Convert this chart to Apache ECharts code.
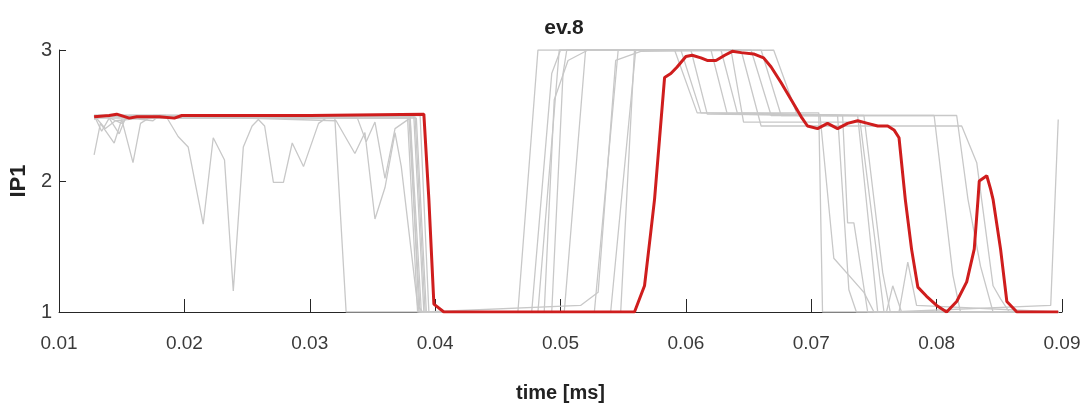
<!DOCTYPE html>
<html>
<head>
<meta charset="utf-8">
<script src="https://cdn.jsdelivr.net/npm/echarts@6/dist/echarts.min.js"></script>
<style>
  html, body { margin: 0; padding: 0; background: #ffffff; }
  #chart { width: 1086px; height: 408px; }
</style>
</head>
<body>
<div id="chart"></div>
<script>
// Axis settings
const xMin = 0.01, xMax = 0.09, xStep = 0.01;
const yMin = 1, yMax = 3, yStep = 1;
const titleText = 'ev.8';
const xName = 'time [ms]';
const yName = 'IP1';

// Highlighted trace (time [ms], IP1)
const highlight = [
  [0.0128, 2.49], [0.0140, 2.50], [0.0146, 2.51], [0.0156, 2.48], [0.0162, 2.49],
  [0.0180, 2.49], [0.0192, 2.48], [0.0198, 2.50], [0.0300, 2.50], [0.0391, 2.51],
  [0.0395, 1.86], [0.0399, 1.06], [0.0407, 1.00], [0.0559, 1.00], [0.0567, 1.20],
  [0.0572, 1.61], [0.0575, 1.86], [0.0583, 2.79], [0.0588, 2.82], [0.0593, 2.87],
  [0.0600, 2.95], [0.0605, 2.96], [0.0612, 2.94], [0.0617, 2.92], [0.0624, 2.92],
  [0.0631, 2.96], [0.0637, 2.99], [0.0644, 2.98], [0.0654, 2.97], [0.0662, 2.94],
  [0.0668, 2.87], [0.0676, 2.75], [0.0684, 2.62], [0.0692, 2.49], [0.0697, 2.42],
  [0.0705, 2.40], [0.0713, 2.44], [0.0721, 2.40], [0.0729, 2.44], [0.0737, 2.46],
  [0.0745, 2.44], [0.0753, 2.42], [0.0761, 2.42], [0.0766, 2.39], [0.0770, 2.33],
  [0.0775, 1.86], [0.0780, 1.48], [0.0785, 1.19], [0.0792, 1.12], [0.0800, 1.05],
  [0.0808, 1.00], [0.0816, 1.08], [0.0824, 1.23], [0.0830, 1.48], [0.0833, 1.86],
  [0.0834, 2.00], [0.0840, 2.04], [0.0843, 1.94], [0.0845, 1.86], [0.0851, 1.48],
  [0.0856, 1.08], [0.0864, 1.00], [0.0897, 1.00]
];

// Other traces
const trace1 = [
  [0.0128, 2.20], [0.0133, 2.44], [0.0144, 2.29], [0.0150, 2.47], [0.0159, 2.14],
  [0.0165, 2.44], [0.0175, 2.50], [0.0320, 2.48], [0.0329, 1.00], [0.0466, 1.00],
  [0.0482, 3.00], [0.0591, 3.00], [0.0609, 2.52], [0.0706, 2.52], [0.0709, 1.00],
  [0.0897, 1.00]
];
const trace2 = [
  [0.0128, 2.50], [0.0137, 2.40], [0.0145, 2.46], [0.0185, 2.50], [0.0190, 2.42],
  [0.0195, 2.34], [0.0203, 2.26], [0.0215, 1.67], [0.0223, 2.33], [0.0232, 2.16],
  [0.0239, 1.16], [0.0247, 2.26], [0.0254, 2.42], [0.0259, 2.47], [0.0264, 2.42],
  [0.0271, 1.99], [0.0279, 1.99], [0.0286, 2.29], [0.0295, 2.11], [0.0307, 2.44],
  [0.0313, 2.48], [0.0378, 2.48], [0.0386, 1.00], [0.0477, 1.00], [0.0493, 2.82],
  [0.0500, 3.00], [0.0604, 3.00], [0.0617, 2.51], [0.0721, 2.50], [0.0730, 1.17],
  [0.0736, 1.00], [0.0897, 1.00]
];
const trace3 = [
  [0.0128, 2.48], [0.0140, 2.50], [0.0175, 2.46], [0.0180, 2.50], [0.0321, 2.46],
  [0.0336, 2.21], [0.0344, 2.37], [0.0352, 1.71], [0.0360, 1.95], [0.0368, 2.37],
  [0.0373, 2.11], [0.0386, 1.05], [0.0390, 1.00], [0.0482, 1.00], [0.0499, 3.00],
  [0.0620, 3.00], [0.0633, 2.51], [0.0725, 2.50], [0.0729, 1.68], [0.0734, 1.68],
  [0.0745, 1.00], [0.0770, 1.00], [0.0777, 1.38], [0.0784, 1.05], [0.0897, 1.00]
];
const trace4 = [
  [0.0128, 2.50], [0.0134, 2.38], [0.0140, 2.48], [0.0148, 2.36], [0.0153, 2.48],
  [0.0338, 2.48], [0.0345, 2.30], [0.0352, 2.45], [0.0360, 2.02], [0.0368, 2.40],
  [0.0380, 2.48], [0.0387, 1.00], [0.0487, 1.00], [0.0495, 2.62], [0.0506, 2.92],
  [0.0522, 3.00], [0.0628, 3.00], [0.0641, 2.52], [0.0737, 2.50], [0.0753, 1.00],
  [0.0897, 1.00]
];
const trace5 = [
  [0.0128, 2.47], [0.0136, 2.50], [0.0150, 2.44], [0.0156, 2.50], [0.0383, 2.49],
  [0.0391, 1.00], [0.0493, 1.00], [0.0502, 2.82], [0.0505, 3.00], [0.0636, 3.00],
  [0.0646, 2.45], [0.0739, 2.45], [0.0758, 1.00], [0.0897, 1.00]
];
const trace6 = [
  [0.0128, 2.50], [0.0379, 2.50], [0.0388, 1.00], [0.0503, 1.00], [0.0520, 3.00],
  [0.0660, 3.00], [0.0676, 2.50], [0.0798, 2.50], [0.0813, 1.28], [0.0819, 1.00],
  [0.0897, 1.00]
];
const trace7 = [
  [0.0128, 2.49], [0.0384, 2.49], [0.0392, 1.00], [0.0516, 1.05], [0.0530, 1.15],
  [0.0544, 2.92], [0.0564, 2.99], [0.0670, 3.00], [0.0689, 2.50], [0.0816, 2.50],
  [0.0825, 1.86], [0.0835, 1.35], [0.0845, 1.00], [0.0897, 1.00]
];
const trace8 = [
  [0.0128, 2.50], [0.0388, 2.50], [0.0395, 1.00], [0.0527, 1.00], [0.0546, 3.00],
  [0.0596, 3.00], [0.0612, 2.52], [0.0707, 2.50], [0.0718, 1.41], [0.0742, 1.15],
  [0.0750, 1.00], [0.0760, 1.00], [0.0765, 1.20], [0.0772, 1.00], [0.0897, 1.00]
];
const trace9 = [
  [0.0128, 2.50], [0.0380, 2.50], [0.0389, 1.00], [0.0540, 1.00], [0.0560, 3.00],
  [0.0644, 3.00], [0.0660, 2.42], [0.0820, 2.42], [0.0832, 2.14], [0.0845, 1.20],
  [0.0851, 1.10], [0.0858, 1.00], [0.0897, 1.00]
];
const trace10 = [
  [0.0128, 2.48], [0.0385, 2.48], [0.0393, 1.00], [0.0548, 1.00], [0.0559, 3.00],
  [0.0652, 3.00], [0.0668, 2.50], [0.0742, 2.50], [0.0757, 1.30], [0.0763, 1.00],
  [0.0891, 1.05], [0.0897, 2.47]
];

const traces = [trace1, trace2, trace3, trace4, trace5, trace6, trace7, trace8, trace9, trace10];

const labelFont = "'Liberation Sans', Arial, sans-serif";

const chart = echarts.init(document.getElementById('chart'), null, { renderer: 'canvas' });

const series = traces.map((d, i) => ({
  name: 'run ' + (i + 1),
  type: 'line',
  data: d,
  showSymbol: false,
  symbol: 'none',
  lineStyle: { color: '#c8c8c8', width: 1.3 },
  z: 2,
  silent: true
}));
series.push({
  name: 'selected',
  type: 'line',
  data: highlight,
  showSymbol: false,
  symbol: 'none',
  lineStyle: { color: '#cf1d1d', width: 3 },
  z: 5,
  silent: true
});

chart.setOption({
  animation: false,
  backgroundColor: '#ffffff',
  title: {
    text: titleText,
    left: 559,
    top: 13,
    textAlign: 'center',
    textStyle: { fontFamily: labelFont, fontSize: 21, fontWeight: 'bold', color: '#222' }
  },
  grid: { left: 57, right: 24, top: 50, bottom: 95, containLabel: false },
  xAxis: {
    type: 'value',
    min: xMin, max: xMax, interval: xStep,
    name: xName,
    nameLocation: 'middle',
    nameGap: 71,
    nameTextStyle: { fontFamily: labelFont, fontSize: 20, fontWeight: 'bold', color: '#222' },
    axisLine: { show: true, onZero: false, lineStyle: { color: '#262626', width: 1 } },
    axisTick: { show: true, inside: true, length: 13, lineStyle: { color: '#262626' } },
    axisLabel: {
      margin: 22, fontFamily: labelFont, fontSize: 19, color: '#3a3a3a',
      formatter: v => v.toFixed(2)
    },
    splitLine: { show: false }
  },
  yAxis: {
    type: 'value',
    min: yMin, max: yMax, interval: yStep,
    name: yName,
    nameLocation: 'middle',
    nameGap: 28,
    nameRotate: 90,
    nameTextStyle: { fontFamily: labelFont, fontSize: 22, fontWeight: 'bold', color: '#222' },
    axisLine: { show: true, onZero: false, lineStyle: { color: '#262626', width: 1 } },
    axisTick: { show: true, inside: true, length: 7, lineStyle: { color: '#262626' } },
    axisLabel: { margin: 7, fontFamily: labelFont, fontSize: 20, color: '#3a3a3a' },
    splitLine: { show: false }
  },
  series: series
});
</script>
</body>
</html>
